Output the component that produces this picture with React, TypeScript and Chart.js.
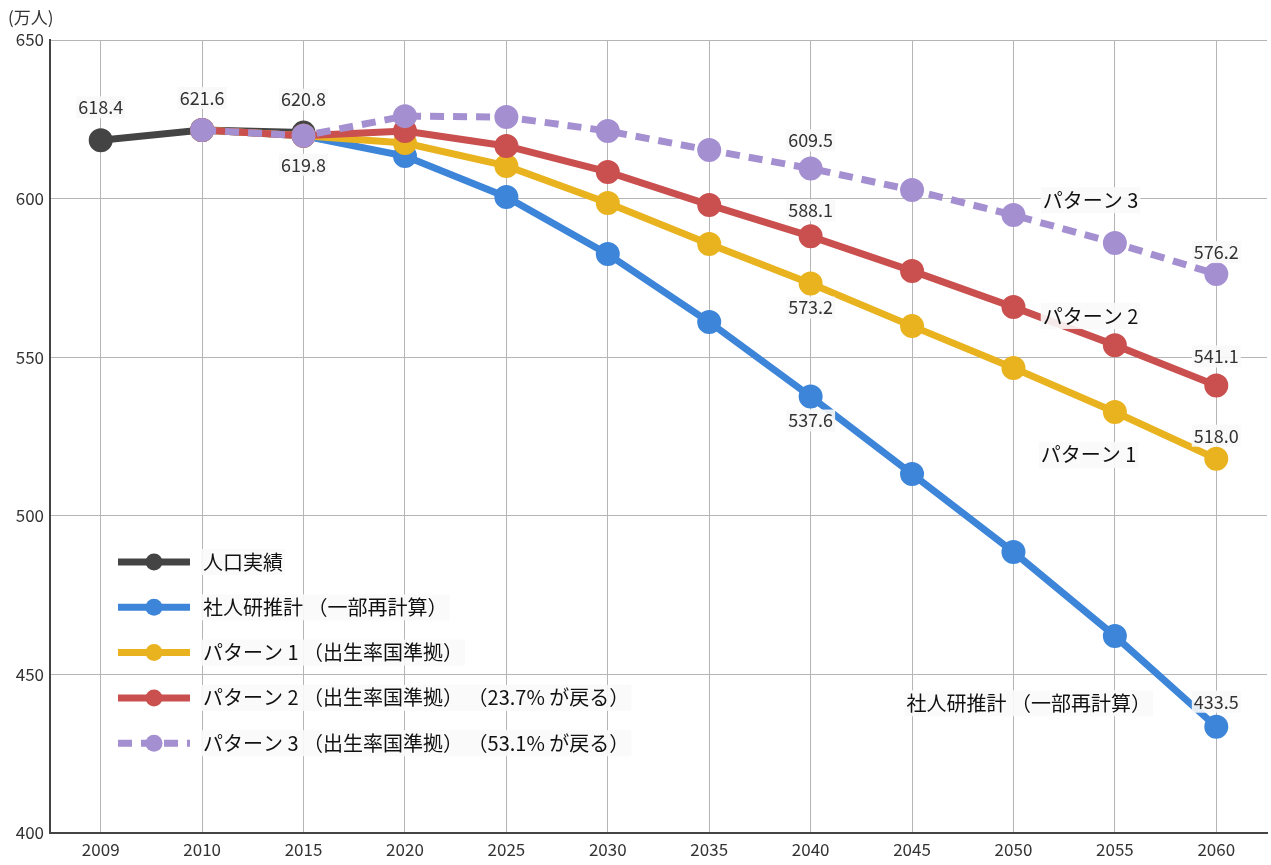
import React, { useEffect, useRef } from "react";
import { Chart, registerables } from "chart.js";
Chart.register(...registerables);

const years = ["2009", "2010", "2015", "2020", "2025", "2030", "2035", "2040", "2045", "2050", "2055", "2060"];
const actual = [618.4, 621.6, 620.8, null, null, null, null, null, null, null, null, null];
const shajinken = [null, 621.6, 619.8, 613.4, 600.5, 582.5, 561.1, 537.6, 513.2, 488.6, 462.1, 433.5];
const pattern1 = [null, 621.6, 619.8, 617.5, 610.3, 598.6, 585.7, 573.2, 559.8, 546.6, 532.7, 518.0];
const pattern2 = [null, 621.6, 619.8, 621.3, 616.6, 608.4, 598.0, 588.1, 577.2, 565.8, 553.8, 541.1];
const pattern3 = [null, 621.6, 619.8, 626.0, 625.7, 621.3, 615.3, 609.5, 602.7, 594.8, 586.0, 576.2];

const seriesNames = [
  "人口実績",
  "社人研推計 （一部再計算）",
  "パターン 1 （出生率国準拠）",
  "パターン 2 （出生率国準拠） （23.7% が戻る）",
  "パターン 3 （出生率国準拠） （53.1% が戻る）",
];
const colors = ["#444444", "#3d85d8", "#e9b320", "#c9504f", "#a48fd1"];

// value labels: dataset index, point index, vertical offset
const valueLabels = [
  { ds: 0, i: 0, dy: -33 },
  { ds: 0, i: 1, dy: -32 },
  { ds: 0, i: 2, dy: -33 },
  { ds: 4, i: 2, dy: 29 },
  { ds: 4, i: 7, dy: -28 },
  { ds: 3, i: 7, dy: -26 },
  { ds: 2, i: 7, dy: 24 },
  { ds: 1, i: 7, dy: 24 },
  { ds: 4, i: 11, dy: -22 },
  { ds: 3, i: 11, dy: -29 },
  { ds: 2, i: 11, dy: -23 },
  { ds: 1, i: 11, dy: -25 },
];

// series annotations placed in data coordinates
const annoTexts = ["パターン 3", "パターン 2", "パターン 1", "社人研推計 （一部再計算）"];
const annoX = [9.76, 9.76, 9.74, 9.15];
const annoY = [599.5, 563.0, 519.2, 440.9];

const FONT = "'Noto Sans CJK JP', 'Noto Sans', sans-serif";

const overlayPlugin = {
  id: "overlay",
  afterDatasetsDraw(chart: any) {
    const ctx = chart.ctx;
    const ca = chart.chartArea;
    const xs = chart.scales.x;
    const ys = chart.scales.y;
    ctx.save();
    // unit label
    ctx.font = `17px ${FONT}`;
    ctx.fillStyle = "#333";
    ctx.textAlign = "left";
    ctx.textBaseline = "middle";
    ctx.fillText("(万人)", ca.left - 42, ca.top - 22);

    // value labels
    ctx.font = `18px ${FONT}`;
    ctx.textAlign = "center";
    ctx.textBaseline = "middle";
    valueLabels.forEach((v) => {
      const el = chart.getDatasetMeta(v.ds).data[v.i];
      const val = chart.data.datasets[v.ds].data[v.i] as number;
      const txt = val.toFixed(1);
      const x = el.x;
      const y = el.y + v.dy;
      const w = ctx.measureText(txt).width;
      ctx.fillStyle = "rgba(248,248,248,0.9)";
      ctx.fillRect(x - w / 2 - 2, y - 11, w + 4, 22);
      ctx.fillStyle = "#333";
      ctx.fillText(txt, x, y);
    });

    // annotations
    ctx.font = `20px ${FONT}`;
    annoTexts.forEach((t, k) => {
      const x = xs.getPixelForValue(annoX[k]);
      const y = ys.getPixelForValue(annoY[k]);
      const w = ctx.measureText(t).width;
      ctx.fillStyle = "rgba(250,250,250,0.9)";
      ctx.fillRect(x - w / 2 - 2, y - 13, w + 4, 26);
      ctx.fillStyle = "#111";
      ctx.fillText(t, x, y);
    });

    // legend
    const lx = ca.left + 68;
    const ly = ca.top + 522;
    const rowH = 45.3;
    seriesNames.forEach((name, k) => {
      const y = ly + k * rowH;
      const ds = chart.data.datasets[k];
      ctx.strokeStyle = ds.borderColor;
      ctx.lineWidth = 7;
      ctx.lineCap = "butt";
      ctx.setLineDash(ds.borderDash || []);
      ctx.beginPath();
      ctx.moveTo(lx, y);
      ctx.lineTo(lx + 72, y);
      ctx.stroke();
      ctx.setLineDash([]);
      ctx.fillStyle = ds.pointBackgroundColor;
      ctx.beginPath();
      ctx.arc(lx + 36, y, 8.5, 0, Math.PI * 2);
      ctx.fill();
      ctx.font = `20px ${FONT}`;
      ctx.textAlign = "left";
      const w = ctx.measureText(name).width;
      ctx.fillStyle = "rgba(250,250,250,0.9)";
      ctx.fillRect(lx + 83, y - 13, w + 4, 26);
      ctx.fillStyle = "#111";
      ctx.fillText(name, lx + 85, y);
    });
    ctx.restore();
  },
};

export default function App() {
  const ref = useRef<HTMLCanvasElement>(null);
  useEffect(() => {
    document.body.style.margin = "0";
    const mk = (k: number, data: (number | null)[], order: number, dash?: number[]) => ({
      label: seriesNames[k],
      data,
      borderColor: colors[k],
      backgroundColor: colors[k],
      pointBackgroundColor: colors[k],
      pointBorderColor: colors[k],
      borderWidth: 7,
      pointRadius: 8.5,
      pointHoverRadius: 8.5,
      borderDash: dash || [],
      borderCapStyle: "butt" as const,
      tension: 0,
      spanGaps: false,
      order,
    });
    const chart = new Chart(ref.current!, {
      type: "line",
      data: {
        labels: years,
        datasets: [
          mk(0, actual, 4),
          mk(1, shajinken, 3),
          mk(2, pattern1, 2),
          mk(3, pattern2, 1),
          mk(4, pattern3, 0, [14, 9]),
        ],
      },
      options: {
        animation: false,
        responsive: false,
        devicePixelRatio: 1,
        layout: { autoPadding: false, padding: { left: 0, top: 40, right: 4, bottom: 0 } },
        plugins: { legend: { display: false }, tooltip: { enabled: false } },
        scales: {
          x: {
            type: "category",
            offset: true,
            grid: { offset: false, color: "#b5b5b5", lineWidth: 1, drawTicks: false },
            border: { color: "#444", width: 2 },
            ticks: { color: "#333", font: { family: FONT, size: 17 }, padding: 6, maxRotation: 0, autoSkip: false },
            afterFit: (s: any) => { s.height = 32; s.paddingLeft = 0; s.paddingRight = 0; },
          },
          y: {
            min: 400,
            max: 650,
            grid: { color: "#b5b5b5", lineWidth: 1, drawTicks: false },
            border: { color: "#444", width: 2 },
            ticks: { stepSize: 50, color: "#333", font: { family: FONT, size: 17 }, padding: 6 },
            afterFit: (s: any) => { s.width = 50; s.paddingTop = 0; s.paddingBottom = 0; },
          },
        },
      },
      plugins: [overlayPlugin],
    });
    return () => chart.destroy();
  }, []);
  return (
    <div style={{ position: "absolute", left: 0, top: 0, width: 1271, height: 865, background: "#fff" }}>
      <canvas ref={ref} width={1271} height={865} />
    </div>
  );
}
